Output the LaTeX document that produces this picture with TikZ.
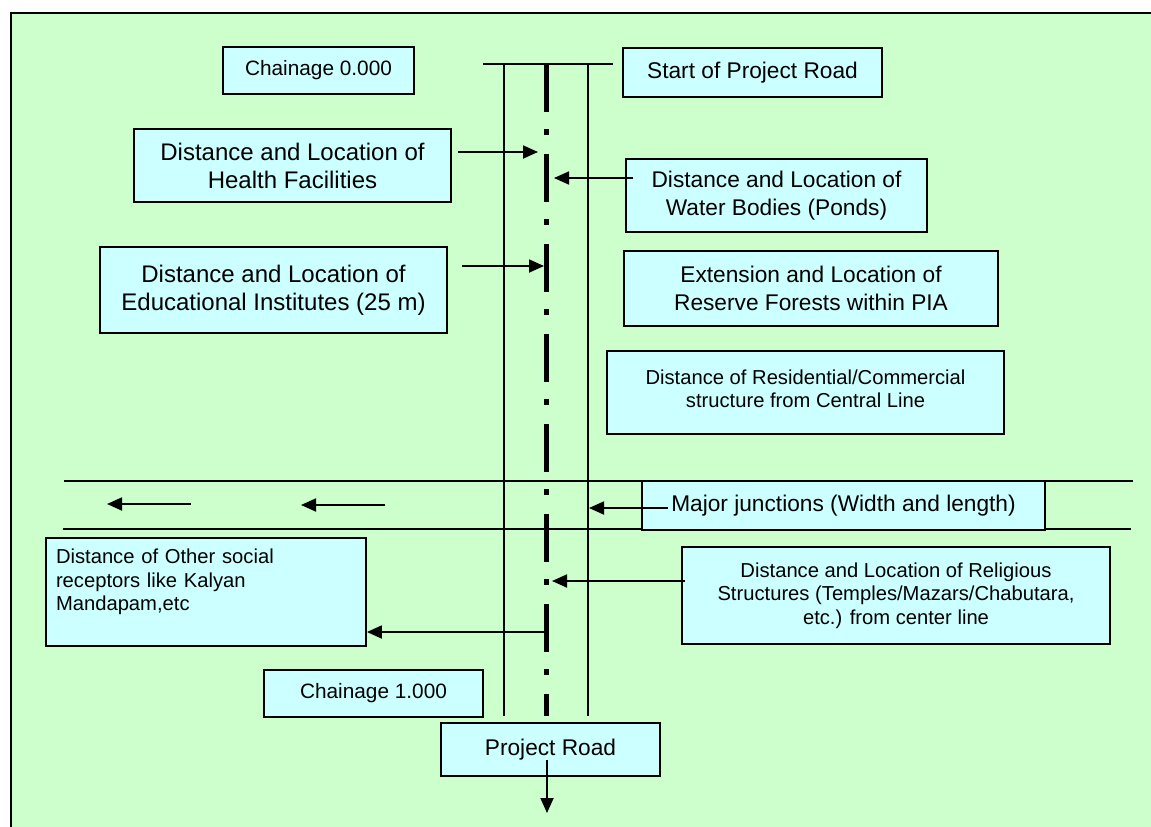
\documentclass[tikz,border=0pt]{standalone}
\usepackage{fontspec}
\setmainfont{Liberation Sans}
\usetikzlibrary{arrows.meta}
\definecolor{bggreen}{HTML}{CCFFCC}
\definecolor{boxcyan}{HTML}{CCFFFF}
\tikzset{
  box/.style={draw=black, line width=1.8pt, fill=boxcyan, align=center, inner sep=0pt},
  arr/.style={line width=1.8pt, -{Triangle[length=15pt,width=13pt]}},
  roadline/.style={line width=1.8pt},
  centreline/.style={line width=5pt, dash pattern=on 48pt off 17pt on 6pt off 19pt},
  fA/.style={font=\fontsize{24}{28}\selectfont},
  fB/.style={font=\fontsize{22.7}{28}\selectfont},
  fC/.style={font=\fontsize{20.8}{24}\selectfont},
  fD/.style={font=\fontsize{20.2}{23.5}\selectfont}
}
\begin{document}
\begin{tikzpicture}[x=1pt,y=-1pt]
\useasboundingbox (0,0) rectangle (1151,827);
% background frame
\fill[bggreen] (11,13) rectangle (1151,827);
\draw[line width=2pt] (11,827) -- (11,13) -- (1151,13);

% project road
\draw[roadline] (483,64) -- (613,64);
\draw[roadline] (504,64) -- (504,716);
\draw[roadline] (588,64) -- (588,716);
\draw[centreline] (546,64) -- (546,716);

% cross road (junction)
\draw[roadline] (64,481) -- (1133,481);
\draw[roadline] (63,529) -- (1131,529);

% boxes
\node[box, fC, minimum width=191pt, minimum height=47pt] (ch0) at (318.5,70.5) {Chainage 0.000};
\node[box, fB, minimum width=259pt, minimum height=49pt] (start) at (752.5,72.5) {Start of Project Road};
\node[box, fA, minimum width=317pt, minimum height=73pt] (health) at (292.5,165.5) {Distance and Location of\\Health Facilities};
\node[box, fB, minimum width=301pt, minimum height=73pt] (water) at (776.5,195.5) {Distance and Location of\\Water Bodies (Ponds)};
\node[box, fA, minimum width=347pt, minimum height=86pt] (edu) at (273.5,290) {Distance and Location of\\Educational Institutes (25 m)};
\node[box, fB, minimum width=374pt, minimum height=75pt] (forest) at (811,288.5) {Extension and Location of\\Reserve Forests within PIA};
\node[box, fD, minimum width=397pt, minimum height=83pt, text depth=8pt] (resid) at (805.5,392.5) {Distance of Residential/Commercial\\structure from Central Line};
\node[box, fB, minimum width=403pt, minimum height=49pt] (major) at (843.5,505.5) {Major junctions (Width and length)};
\node[box, fD, minimum width=428pt, minimum height=97pt] (relig) at (896,595.5) {Distance and Location of Religious\\Structures (Temples/Mazars/Chabutara,\\etc.) from center line};
\node[box, fD, align=left, text width=300pt, inner xsep=10pt, minimum height=108pt] (other) at (206,592) {Distance of Other social\\receptors like Kalyan\\Mandapam,etc\\[0.5pt]\mbox{}};
\node[box, fC, minimum width=219pt, minimum height=47pt] (ch1) at (373.5,693.5) {Chainage 1.000};
\node[box, fB, minimum width=219pt, minimum height=53pt] (proj) at (550.5,749.5) {Project Road};

% connector end points
\coordinate (hS) at (458,152);   \coordinate (hE) at (538,152);
\coordinate (wS) at (633,178);   \coordinate (wE) at (554,178);
\coordinate (eS) at (462,266);   \coordinate (eE) at (544,266);
\coordinate (mS) at (668,508);   \coordinate (mE) at (589,508);
\coordinate (rS) at (685,581);   \coordinate (rE) at (552,581);
\coordinate (oS) at (546,632);
\coordinate (pS) at (547,760);   \coordinate (pE) at (547,813);
\coordinate (j1S) at (191,504);  \coordinate (j1E) at (107,504);
\coordinate (j2S) at (385,505);  \coordinate (j2E) at (301,505);

% connectors
\draw[arr] (hS) -- (hE);
\draw[arr] (wS) -- (wE);
\draw[arr] (eS) -- (eE);
\draw[arr] (mS) -- (mE);
\draw[arr] (rS) -- (rE);
\draw[arr] (oS) -- (other.east |- oS);
\draw[arr] (pS) -- (pE);
\draw[arr] (j1S) -- (j1E);
\draw[arr] (j2S) -- (j2E);
\end{tikzpicture}
\end{document}
